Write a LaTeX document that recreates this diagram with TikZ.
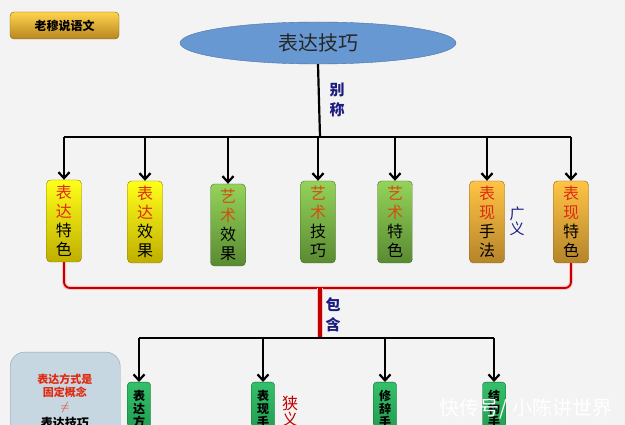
\documentclass[tikz,border=0pt]{standalone}
\usepackage{fontspec}
\newfontfamily\cjk{Noto Sans CJK SC}
\usetikzlibrary{arrows.meta,positioning,shapes.geometric}

\definecolor{bgcol}{HTML}{F3F3F3}
\definecolor{navy}{HTML}{1C1C80}
\definecolor{hotred}{HTML}{E02A10}
\definecolor{artred}{HTML}{D0500F}
\definecolor{darkred}{HTML}{C00000}
\definecolor{skyfill}{HTML}{6898D2}
\definecolor{skyline}{HTML}{4A72A8}
\definecolor{goldtop}{HTML}{FFD34E}
\definecolor{goldbot}{HTML}{B8861E}
\definecolor{yeltop}{HTML}{FFFF1A}
\definecolor{yelbot}{HTML}{BFAE00}
\definecolor{grntop}{HTML}{94D35A}
\definecolor{grnbot}{HTML}{5A8A32}
\definecolor{orgtop}{HTML}{FFC445}
\definecolor{orgbot}{HTML}{B5842A}
\definecolor{mintop}{HTML}{34C06A}
\definecolor{minbot}{HTML}{1A9048}
\definecolor{notefill}{HTML}{C7D7E1}
\definecolor{noteline}{HTML}{8EA3B5}
\newcommand\redch[1]{\textcolor{hotred}{#1}}
\newcommand\artch[1]{\textcolor{artred}{#1}}

\begin{document}
\begin{tikzpicture}[x=1pt,y=-1pt,
    bar/.style={line width=2.2pt, black},
    arrowline/.style={bar, -{Straight Barb[length=6pt,width=11pt,line width=2.2pt]}},
    glow/.style={line width=4pt, red!25, rounded corners=6},
    brace/.style={line width=1.8pt, darkred, rounded corners=6},
    label/.style={font=\cjk\bfseries\fontsize{15}{20}\selectfont, text=navy, align=center},
    tallbox/.style={rounded corners=4, minimum width=35, minimum height=82, inner sep=0,
        align=center, font=\cjk\fontsize{16}{19}\selectfont},
    yellowbox/.style={tallbox, draw=yelbot!70!black, top color=yeltop, bottom color=yelbot},
    greenbox/.style={tallbox, draw=grnbot!80!black, top color=grntop, bottom color=grnbot},
    orangebox/.style={tallbox, draw=orgbot!75!black, top color=orgtop, bottom color=orgbot},
    smallbox/.style={rounded corners=3, minimum width=23, inner xsep=0, inner ysep=8, anchor=north,
        align=center, draw=minbot!70!black, top color=mintop, bottom color=minbot,
        font=\cjk\bfseries\fontsize{12}{13}\selectfont}]

    \fill[bgcol] (0,0) rectangle (625,425);
    \clip (0,0) rectangle (625,425);

    % title button and main ellipse
    \node (badge) [rounded corners=4, draw=goldbot!70!black, top color=goldtop, bottom color=goldbot,
        minimum width=109, minimum height=27, font=\cjk\bfseries\fontsize{12}{14}\selectfont] at (64.5,25.5) {老穆说语文};
    \node (top) [ellipse, draw=skyline, fill=skyfill, minimum width=276, minimum height=42,
        font=\cjk\fontsize{20}{22}\selectfont, text=black!85] at (318,43) {表达技巧};

    % broad names
    \node (b1) [yellowbox] at (64,221) {\redch{表}\\\redch{达}\\特\\色};
    \node (b2) [yellowbox] at (145,222) {\redch{表}\\\redch{达}\\效\\果};
    \node (b3) [greenbox] at (228,225) {\artch{艺}\\\artch{术}\\效\\果};
    \node (b4) [greenbox] at (318,222) {\artch{艺}\\\artch{术}\\技\\巧};
    \node (b5) [greenbox] at (395,222) {\artch{艺}\\\artch{术}\\特\\色};
    \node (b6) [orangebox] at (487,222) {\redch{表}\\\redch{现}\\手\\法};
    \node (b7) [orangebox] at (571,222) {\redch{表}\\\redch{现}\\特\\色};

    \coordinate (hub) at (320,137);
    \draw[bar] (top.south) -- (hub);
    \draw[bar] (b1.north |- hub) -- (b7.north |- hub);
    \foreach \n in {1,...,7}
        \draw[arrowline] (b\n.north |- hub) -- (b\n.north);

    \node (alias) [label] at (337,100) {别\\称};
    \node (broad) [label, font=\cjk\fontsize{15}{15}\selectfont] at (517,221) {广\\义};

    % red brace
    \coordinate (brace) at (320,288);
    \coordinate (hub2) at (320,338);
    \draw[glow] (b1.south) |- (brace) -| (b7.south);
    \draw[brace] (b1.south) |- (brace) -| (b7.south);
    \draw[line width=6pt, red!25] (brace) -- (hub2);
    \draw[line width=3.6pt, darkred] (brace) -- (hub2);
    \node (contain) [label] at (333,315) {包\\含};

    % narrow names
    \node (c1) [smallbox] at (139,382) {表\\达\\方\\式};
    \node (c2) [smallbox] at (263,382) {表\\现\\手\\法};
    \node (c3) [smallbox] at (385,382) {修\\辞\\手\\法};
    \node (c4) [smallbox] at (494,382) {结\\构\\手\\法};

    \draw[bar] (c1.north |- hub2) -- (c4.north |- hub2);
    \foreach \n in {1,...,4}
        \draw[arrowline] (c\n.north |- hub2) -- (c\n.north);

    \node (narrow) [font=\cjk\fontsize{16}{16}\selectfont, text=darkred, align=center] at (290,411) {狭\\义};

    % side note
    \node (note) [anchor=north west, rounded corners=14, draw=noteline, fill=notefill,
        minimum width=110, minimum height=110] at (10,352) {};
    \node (n1) [font=\cjk\bfseries\fontsize{11}{13}\selectfont, text=hotred, align=center] at (65,386) {表达方式是\\固定概念};
    \node (n2) [text=hotred, font=\bfseries\fontsize{12}{12}\selectfont] at (65,407) {$\neq$};
    \node (n3) [font=\cjk\bfseries\fontsize{12}{13}\selectfont] at (65,423) {表达技巧};

    \node (mark) [font=\cjk\fontsize{20}{22}\selectfont, text=white] at (526,409) {快传号/ 小陈讲世界};
\end{tikzpicture}
\end{document}
